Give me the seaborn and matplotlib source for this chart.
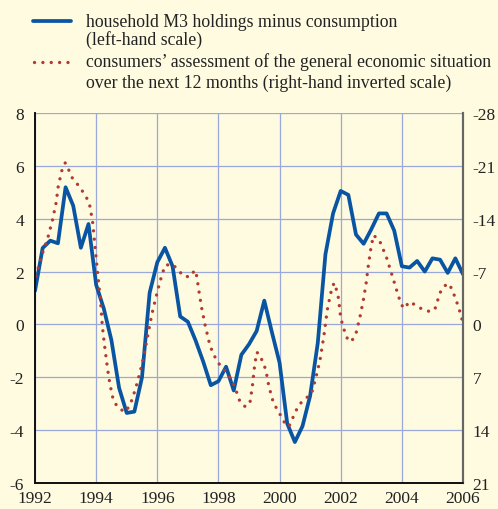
import numpy as np
import pandas as pd
import matplotlib
matplotlib.use("Agg")
import matplotlib.pyplot as plt
from matplotlib.lines import Line2D
import seaborn as sns

# household M3 holdings minus consumption, quarterly (left-hand scale)
m3_years = np.arange(1992, 2006.01, 0.25)
m3_values = [1.27, 2.89, 3.17, 3.07, 5.19, 4.49, 2.9, 3.8,      # 1992-1993
             1.5, 0.6, -0.6, -2.4, -3.35, -3.3, -2.0, 1.2,      # 1994-1995
             2.35, 2.9, 2.2, 0.3, 0.1, -0.6, -1.4, -2.3,        # 1996-1997
             -2.15, -1.6, -2.5, -1.15, -0.75, -0.25, 0.9, -0.3, # 1998-1999
             -1.45, -3.75, -4.45, -3.85, -2.7, -0.7, 2.65, 4.2, # 2000-2001
             5.05, 4.9, 3.4, 3.05, 3.6, 4.2, 4.2, 3.55,         # 2002-2003
             2.2, 2.15, 2.4, 2.0, 2.5, 2.45, 1.95, 2.5,         # 2004-2005
             1.9]

# consumers' assessment of general economic situation (right-hand inverted scale)
conf_years = [1992.03, 1992.25, 1992.42, 1992.57, 1992.69, 1992.76, 1992.88, 1992.99,
              1993.11, 1993.22, 1993.40, 1993.56, 1993.71, 1993.80, 1993.89, 1993.97,
              1994.05, 1994.14, 1994.20, 1994.26, 1994.37, 1994.45, 1994.56, 1994.71,
              1994.94, 1995.11, 1995.29, 1995.43, 1995.56, 1995.71, 1995.82, 1995.95,
              1996.09, 1996.25, 1996.47, 1996.65, 1996.85, 1997.07, 1997.23, 1997.29,
              1997.37, 1997.46, 1997.57, 1997.70, 1997.79, 1997.91, 1998.05, 1998.25,
              1998.40, 1998.52, 1998.71, 1998.88, 1999.03, 1999.11, 1999.17, 1999.25,
              1999.34, 1999.44, 1999.55, 1999.65, 1999.80, 1999.93, 2000.07, 2000.20,
              2000.31, 2000.43, 2000.54, 2000.67, 2000.86, 2001.05, 2001.19, 2001.32,
              2001.45, 2001.56, 2001.67, 2001.78, 2001.87, 2001.93, 2001.99, 2002.05,
              2002.14, 2002.25, 2002.36, 2002.50, 2002.63, 2002.74, 2002.83, 2002.90,
              2002.98, 2003.07, 2003.26, 2003.37, 2003.48, 2003.65, 2003.81, 2003.97,
              2004.08, 2004.24, 2004.43, 2004.67, 2004.92, 2005.08, 2005.25, 2005.39,
              2005.55, 2005.66, 2005.76, 2005.93, 2006.0]
conf_values = [-6.4, -9.5, -11.5, -13.8, -16.1, -18.3, -20.4, -21.4,
               -20.4, -19.4, -18.5, -17.6, -16.6, -15.6, -13.4, -10.0,
               -6.7, -3.3, 0.1, 2.3, 5.8, 7.9, 10.0, 11.0,
               11.6, 10.7, 8.5, 6.4, 4.2, 1.0, -1.3, -3.5,
               -5.7, -7.8, -8.0, -7.4, -6.4, -6.3, -7.2, -6.4,
               -4.2, -2.0, 0.2, 2.4, 3.5, 4.5, 5.4, 6.3,
               7.2, 8.1, 10.3, 10.9, 10.4, 8.2, 5.9, 3.7,
               3.9, 4.9, 6.0, 8.2, 10.4, 11.3, 12.3, 13.3,
               13.5, 12.4, 11.4, 10.5, 9.8, 9.1, 7.0, 4.8,
               1.5, -1.9, -4.1, -5.5, -4.5, -3.4, -1.2, -0.1,
               1.1, 2.2, 2.2, 1.2, -1.0, -3.2, -5.4, -7.7,
               -9.9, -11.8, -11.2, -10.1, -9.1, -6.9, -4.8, -2.7,
               -2.1, -3.0, -2.6, -2.0, -1.7, -2.0, -4.2, -5.1,
               -5.4, -4.4, -3.4, -1.3, -0.1]

df_m3 = pd.DataFrame({"year": m3_years, "value": m3_values})
df_conf = pd.DataFrame({"year": conf_years, "value": conf_values})

bg = "#fefbe0"
grid_col = "#9aa8da"
blue = "#0a55a3"
red = "#b23a30"

sns.set_theme(style="white")
plt.rcParams["font.family"] = ["Liberation Serif", "DejaVu Serif"]
plt.rcParams["axes.unicode_minus"] = False

fig = plt.figure(figsize=(4.98, 5.10), dpi=100, facecolor=bg)
ax = fig.add_axes([0.0703, 0.051, 0.8594, 0.7255])
ax.set_facecolor(bg)
ax2 = ax.twinx()

sns.lineplot(data=df_m3, x="year", y="value", ax=ax, color=blue, linewidth=2.7)
sns.lineplot(data=df_conf, x="year", y="value", ax=ax2, color=red, linewidth=2.4)
for ln in ax2.lines:
    ln.set_linestyle((0, (0.01, 2.5)))
    ln.set_dash_capstyle("round")

# axes, ticks and grid
ax.set_xlim(1992, 2006)
ax.set_ylim(-6, 8)
ax2.set_ylim(21, -28)
ax.set_xticks(range(1992, 2007, 2))
ax.set_yticks(range(-6, 9, 2))
ax2.set_yticks(range(-28, 22, 7))
ax.set_xlabel("")
ax.set_ylabel("")
ax2.set_ylabel("")
ax.grid(True, color=grid_col, linewidth=0.9)
ax.set_axisbelow(True)

ax.tick_params(axis="y", length=0, pad=8, labelsize=12.5, colors="#222222")
ax.tick_params(axis="x", length=4, width=1, direction="out", pad=1,
               labelsize=12.5, colors="#222222")
ax2.tick_params(axis="y", length=0, pad=7, labelsize=12.5, colors="#222222")

for a in (ax, ax2):
    a.spines["top"].set_visible(False)
    a.spines["left"].set_color("#111111")
    a.spines["bottom"].set_color("#111111")
    a.spines["right"].set_color("#666666")
    a.spines["right"].set_linewidth(1.5)

# legend drawn by hand so the keys line up with the first text line
fig.add_artist(Line2D([0.0663, 0.1426], [0.9575, 0.9575], color=blue,
                      linewidth=2.7, transform=fig.transFigure))
fig.add_artist(Line2D([0.069, 0.1406], [0.877, 0.877], color=red, linewidth=2.4,
                      linestyle=(0, (0.01, 2.5)), dash_capstyle="round",
                      transform=fig.transFigure))
legend_lines = [("household M3 holdings minus consumption", 0.948),
                ("(left-hand scale)", 0.912),
                ("consumers\u2019 assessment of the general economic situation", 0.868),
                ("over the next 12 months (right-hand inverted scale)", 0.828)]
for txt, y in legend_lines:
    fig.text(0.1727, y, txt, fontsize=12.8, color="#222222", va="baseline", ha="left")

fig.savefig("out.png", dpi=100, facecolor=bg)
